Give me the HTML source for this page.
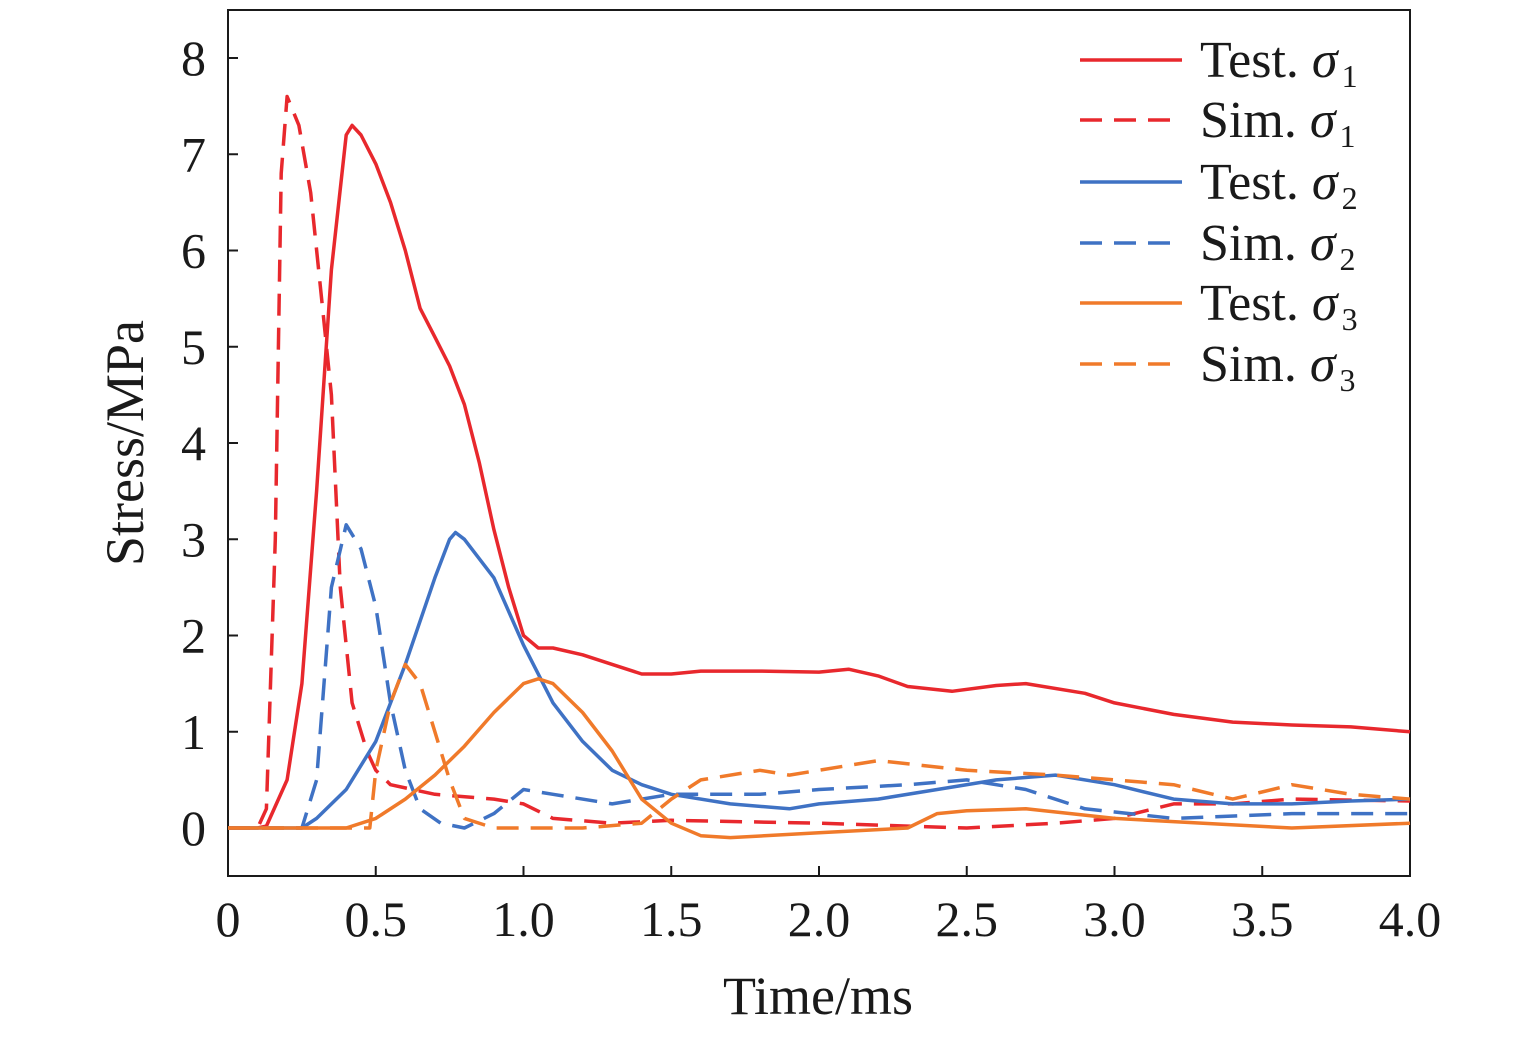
<!DOCTYPE html>
<html><head><meta charset="utf-8"><style>
body{margin:0;background:#fff}
svg text{font-family:"Liberation Serif",serif;fill:#1a1a1a}
</style></head><body>
<svg id="chart" width="1535" height="1033" xmlns="http://www.w3.org/2000/svg">
<g id="plot"></g>
</svg>
<script>
const xTicks=[0,0.5,1.0,1.5,2.0,2.5,3.0,3.5,4.0];
const xTickLabels=["0","0.5","1.0","1.5","2.0","2.5","3.0","3.5","4.0"];
const yTicks=[0,1,2,3,4,5,6,7,8];
const yTickLabels=["0","1","2","3","4","5","6","7","8"];
const seriesNames=["Test. σ1","Sim. σ1","Test. σ2","Sim. σ2","Test. σ3","Sim. σ3"];
const testS1=[[0,0],[0.1,0],[0.13,0.02],[0.2,0.5],[0.25,1.5],[0.3,3.5],[0.35,5.8],[0.4,7.2],[0.42,7.3],[0.45,7.2],[0.5,6.9],[0.55,6.5],[0.6,6.0],[0.65,5.4],[0.7,5.1],[0.75,4.8],[0.8,4.4],[0.85,3.8],[0.9,3.1],[0.95,2.5],[1.0,2.0],[1.05,1.87],[1.1,1.87],[1.2,1.8],[1.3,1.7],[1.4,1.6],[1.5,1.6],[1.6,1.63],[1.8,1.63],[2.0,1.62],[2.1,1.65],[2.2,1.58],[2.3,1.47],[2.45,1.42],[2.6,1.48],[2.7,1.5],[2.9,1.4],[3.0,1.3],[3.2,1.18],[3.4,1.1],[3.6,1.07],[3.8,1.05],[4.0,1.0]];
const simS1=[[0,0],[0.1,0],[0.13,0.2],[0.16,3],[0.18,6.8],[0.2,7.6],[0.24,7.3],[0.28,6.6],[0.32,5.4],[0.35,4.5],[0.38,2.5],[0.42,1.3],[0.47,0.8],[0.5,0.6],[0.55,0.45],[0.7,0.35],[0.9,0.3],[1.0,0.25],[1.1,0.1],[1.3,0.05],[1.5,0.08],[2.0,0.05],[2.5,0.0],[2.8,0.05],[3.0,0.1],[3.2,0.25],[3.4,0.25],[3.6,0.3],[4.0,0.28]];
const testS2=[[0,0],[0.25,0],[0.3,0.1],[0.4,0.4],[0.5,0.9],[0.6,1.7],[0.7,2.6],[0.75,3.0],[0.77,3.07],[0.8,3.0],[0.9,2.6],[1.0,1.9],[1.1,1.3],[1.2,0.9],[1.3,0.6],[1.4,0.45],[1.5,0.35],[1.7,0.25],[1.9,0.2],[2.0,0.25],[2.2,0.3],[2.4,0.4],[2.6,0.5],[2.8,0.55],[3.0,0.45],[3.2,0.3],[3.4,0.25],[3.6,0.25],[3.8,0.28],[4.0,0.3]];
const simS2=[[0,0],[0.25,0],[0.3,0.5],[0.35,2.5],[0.4,3.15],[0.45,2.9],[0.5,2.3],[0.55,1.3],[0.6,0.6],[0.65,0.2],[0.72,0.05],[0.8,0.0],[0.9,0.15],[1.0,0.4],[1.1,0.35],[1.3,0.25],[1.5,0.35],[1.8,0.35],[2.0,0.4],[2.3,0.45],[2.5,0.5],[2.7,0.4],[2.9,0.2],[3.2,0.1],[3.6,0.15],[4.0,0.15]];
const testS3=[[0,0],[0.4,0],[0.5,0.1],[0.6,0.3],[0.7,0.55],[0.8,0.85],[0.9,1.2],[1.0,1.5],[1.05,1.55],[1.1,1.5],[1.2,1.2],[1.3,0.8],[1.4,0.3],[1.5,0.05],[1.6,-0.08],[1.7,-0.1],[2.0,-0.05],[2.3,0.0],[2.4,0.15],[2.5,0.18],[2.7,0.2],[3.0,0.1],[3.3,0.05],[3.6,0.0],[4.0,0.05]];
const simS3=[[0,0],[0.48,0],[0.5,0.6],[0.55,1.3],[0.6,1.7],[0.65,1.5],[0.7,1.0],[0.75,0.5],[0.8,0.1],[0.9,0.0],[1.2,0.0],[1.4,0.05],[1.5,0.3],[1.6,0.5],[1.8,0.6],[1.9,0.55],[2.1,0.65],[2.2,0.7],[2.5,0.6],[2.8,0.55],[3.0,0.5],[3.2,0.45],[3.4,0.3],[3.6,0.45],[3.8,0.35],[4.0,0.3]];

const NS="http://www.w3.org/2000/svg";
const g=document.getElementById('plot');
const L=228,R=1410,T=10,B=876;
const X=v=>L+(v-0)/4*(R-L);
const Y=v=>828-v*96.25;
function mk(tag,attrs,parent){const e=document.createElementNS(NS,tag);for(const k in attrs)e.setAttribute(k,attrs[k]);(parent||g).appendChild(e);return e;}
const frame=mk('rect',{x:L,y:T,width:R-L,height:B-T,fill:'none',stroke:'#1a1a1a','stroke-width':2});


xTicks.forEach((v,i)=>{
  const t=mk('line',{x1:X(v),x2:X(v),y1:B,y2:B-10,stroke:'#1a1a1a','stroke-width':2});
  
  
  const tx=mk('text',{x:X(v),y:936,'text-anchor':'middle','font-size':50});
  tx.textContent=xTickLabels[i];
  
  
});
yTicks.forEach((v,i)=>{
  const t=mk('line',{x1:L,x2:L+10,y1:Y(v),y2:Y(v),stroke:'#1a1a1a','stroke-width':2});
  
  
  const tx=mk('text',{x:206,y:Y(v)+17,'text-anchor':'end','font-size':50});
  tx.textContent=yTickLabels[i];
  
  
});
const xt=mk('text',{x:818,y:1014,'text-anchor':'middle','font-size':54});
xt.textContent='Time/ms';


const yt=mk('text',{x:0,y:0,'text-anchor':'middle','font-size':54,transform:'translate(143,443) rotate(-90)'});
yt.textContent='Stress/MPa';



const series=[testS1,simS1,testS2,simS2,testS3,simS3];
const colors=['#e8282d','#e8282d','#3f72c4','#3f72c4','#f07a2a','#f07a2a'];
const dashed=[false,true,false,true,false,true];
const names=['test-sigma1-line','sim-sigma1-line','test-sigma2-line','sim-sigma2-line','test-sigma3-line','sim-sigma3-line'];
series.forEach((s,i)=>{
  const d=s.map((p,j)=>(j?'L':'M')+X(p[0]).toFixed(1)+','+Y(p[1]).toFixed(1)).join(' ');
  const p=mk('path',{d:d,fill:'none',stroke:colors[i],'stroke-width':3.5,'stroke-linejoin':'round','stroke-dasharray':dashed[i]?'22 12':'none'});
  
  
});
const legY=[60,120,182,243,303,364];
seriesNames.forEach((n,i)=>{
  const lg=mk('g',{});
  
  
  mk('line',{x1:1080,x2:1182,y1:legY[i],y2:legY[i],stroke:colors[i],'stroke-width':3.5,'stroke-dasharray':dashed[i]?'22 12':'none'},lg);
  const t=mk('text',{x:1200,y:legY[i]+17,'font-size':52},lg);
  const parts=n.split('σ');
  t.appendChild(document.createTextNode(parts[0]));
  const s1=mk('tspan',{'font-style':'italic'},t);s1.textContent='σ';
  const s2=mk('tspan',{'font-size':32,dy:10,dx:4},t);s2.textContent=parts[1];
});
</script>
</body></html>
